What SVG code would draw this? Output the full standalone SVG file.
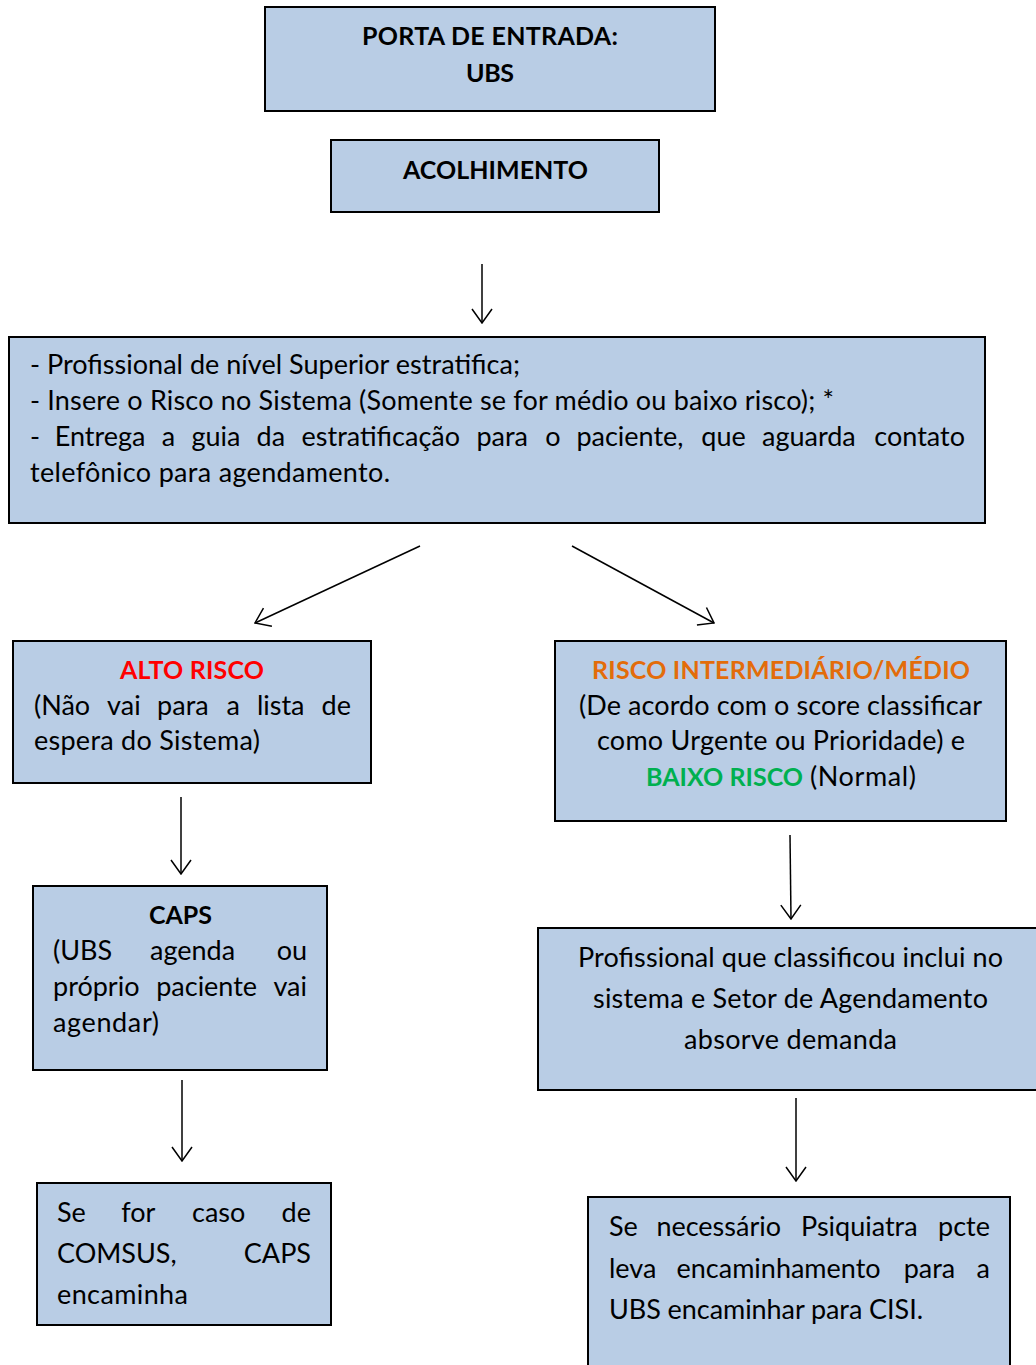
<svg xmlns="http://www.w3.org/2000/svg" width="1036" height="1365" viewBox="0 0 1036 1365">
  <style>
    .box { fill: #B9CDE5; stroke: #000; stroke-width: 2; }
    text { font-family: Lato, "Open Sans", "Liberation Sans", sans-serif; font-size: 27px; fill: #000; }
    .b { font-weight: bold; font-size: 25px; }
    .red { fill: #FF0000; }
    .orange { fill: #E36C0A; }
    .green { fill: #00B050; }
    .end { text-anchor: end; }
    .conn line { stroke: #000; stroke-width: 1.5; marker-end: url(#arrow); }
  </style>
  <defs>
    <marker id="arrow" markerUnits="userSpaceOnUse" viewBox="0 0 16 22" markerWidth="16" markerHeight="22" refX="15" refY="11" orient="auto">
      <path d="M1,1 L15,11 L1,21" fill="none" stroke="#000" stroke-width="1.5"/>
    </marker>
  </defs>

  <rect width="1036" height="1365" fill="#fff"/>

  <!-- connectors -->
  <g class="conn" id="connectors">
    <line x1="482" y1="264" x2="482" y2="323"/>
    <line x1="420" y1="546" x2="255" y2="623"/>
    <line x1="572" y1="546" x2="714" y2="623"/>
    <line x1="181" y1="797" x2="181" y2="874"/>
    <line x1="790" y1="835" x2="791" y2="919"/>
    <line x1="182" y1="1080" x2="182" y2="1161"/>
    <line x1="796" y1="1098" x2="796" y2="1181"/>
  </g>

  <g id="porta-entrada">
    <rect class="box" x="265" y="7" width="450" height="104"/>
    <text class="b" x="362" y="45" textLength="256" lengthAdjust="spacing">PORTA DE ENTRADA:</text>
    <text class="b" x="466" y="82" textLength="48" lengthAdjust="spacing">UBS</text>
  </g>

  <g id="acolhimento">
    <rect class="box" x="331" y="140" width="328" height="72"/>
    <text class="b" x="403" y="179" textLength="185" lengthAdjust="spacing">ACOLHIMENTO</text>
  </g>

  <g id="estratificacao">
    <rect class="box" x="9" y="337" width="976" height="186"/>
    <text x="30" y="374" textLength="490" lengthAdjust="spacing">- Profissional de nível Superior estratifica;</text>
    <text x="30" y="410" textLength="804" lengthAdjust="spacing">- Insere o Risco no Sistema (Somente se for médio ou baixo risco); *</text>
    <text y="446">
      <tspan x="30">-</tspan><tspan x="54.7">Entrega</tspan><tspan x="161.7">a</tspan><tspan x="191.4">guia</tspan><tspan x="256.6">da</tspan><tspan x="301.5">estratificação</tspan><tspan x="476.4">para</tspan><tspan x="545.3">o</tspan><tspan x="576.4">paciente,</tspan><tspan x="701.3">que</tspan><tspan x="762">aguarda</tspan>
    </text>
    <text class="end" x="965" y="446">contato</text>
    <text x="30" y="482" textLength="360" lengthAdjust="spacing">telefônico para agendamento.</text>
  </g>

  <g id="alto-risco">
    <rect class="box" x="13" y="641" width="358" height="142"/>
    <text class="b red" x="120" y="679" textLength="144" lengthAdjust="spacing">ALTO RISCO</text>
    <text y="715">
      <tspan x="34">(Não</tspan><tspan x="107.1">vai</tspan><tspan x="157.1">para</tspan><tspan x="226.6">a</tspan><tspan x="256.9">lista</tspan>
    </text>
    <text class="end" x="351" y="715">de</text>
    <text x="34" y="750" textLength="226" lengthAdjust="spacing">espera do Sistema)</text>
  </g>

  <g id="risco-medio-baixo">
    <rect class="box" x="555" y="641" width="451" height="180"/>
    <text class="b orange" x="592" y="679" textLength="378" lengthAdjust="spacing">RISCO INTERMEDIÁRIO/MÉDIO</text>
    <text x="579" y="715" textLength="403" lengthAdjust="spacing">(De acordo com o score classificar</text>
    <text x="597" y="750" textLength="368" lengthAdjust="spacing">como Urgente ou Prioridade) e</text>
    <text y="786"><tspan class="b green" x="646" textLength="157" lengthAdjust="spacing">BAIXO RISCO</tspan><tspan x="810" textLength="106" lengthAdjust="spacing">(Normal)</tspan></text>
  </g>

  <g id="caps">
    <rect class="box" x="33" y="886" width="294" height="184"/>
    <text class="b" x="149" y="924" textLength="63" lengthAdjust="spacing">CAPS</text>
    <text y="960"><tspan x="53">(UBS</tspan><tspan x="150">agenda</tspan></text>
    <text class="end" x="307" y="960">ou</text>
    <text y="996"><tspan x="53">próprio</tspan><tspan x="156.2">paciente</tspan></text>
    <text class="end" x="307" y="996">vai</text>
    <text x="53" y="1032" textLength="106" lengthAdjust="spacing">agendar)</text>
  </g>

  <g id="agendamento">
    <rect class="box" x="538" y="928" width="520" height="162"/>
    <text x="578" y="967" textLength="425" lengthAdjust="spacing">Profissional que classificou inclui no</text>
    <text x="593" y="1008" textLength="395" lengthAdjust="spacing">sistema e Setor de Agendamento</text>
    <text x="684" y="1049" textLength="213" lengthAdjust="spacing">absorve demanda</text>
  </g>

  <g id="comsus">
    <rect class="box" x="37" y="1183" width="294" height="142"/>
    <text y="1222"><tspan x="57">Se</tspan><tspan x="121.3">for</tspan><tspan x="192">caso</tspan></text>
    <text class="end" x="311" y="1222">de</text>
    <text x="57" y="1263">COMSUS,</text>
    <text class="end" x="311" y="1263">CAPS</text>
    <text x="57" y="1304" textLength="131" lengthAdjust="spacing">encaminha</text>
  </g>

  <g id="psiquiatra">
    <rect class="box" x="588" y="1197" width="422" height="200"/>
    <text y="1236"><tspan x="609">Se</tspan><tspan x="656.4">necessário</tspan><tspan x="801">Psiquiatra</tspan></text>
    <text class="end" x="990" y="1236">pcte</text>
    <text y="1278"><tspan x="609">leva</tspan><tspan x="676.5">encaminhamento</tspan><tspan x="903.7">para</tspan></text>
    <text class="end" x="990" y="1278">a</text>
    <text x="609" y="1319" textLength="314" lengthAdjust="spacing">UBS encaminhar para CISI.</text>
  </g>
</svg>
